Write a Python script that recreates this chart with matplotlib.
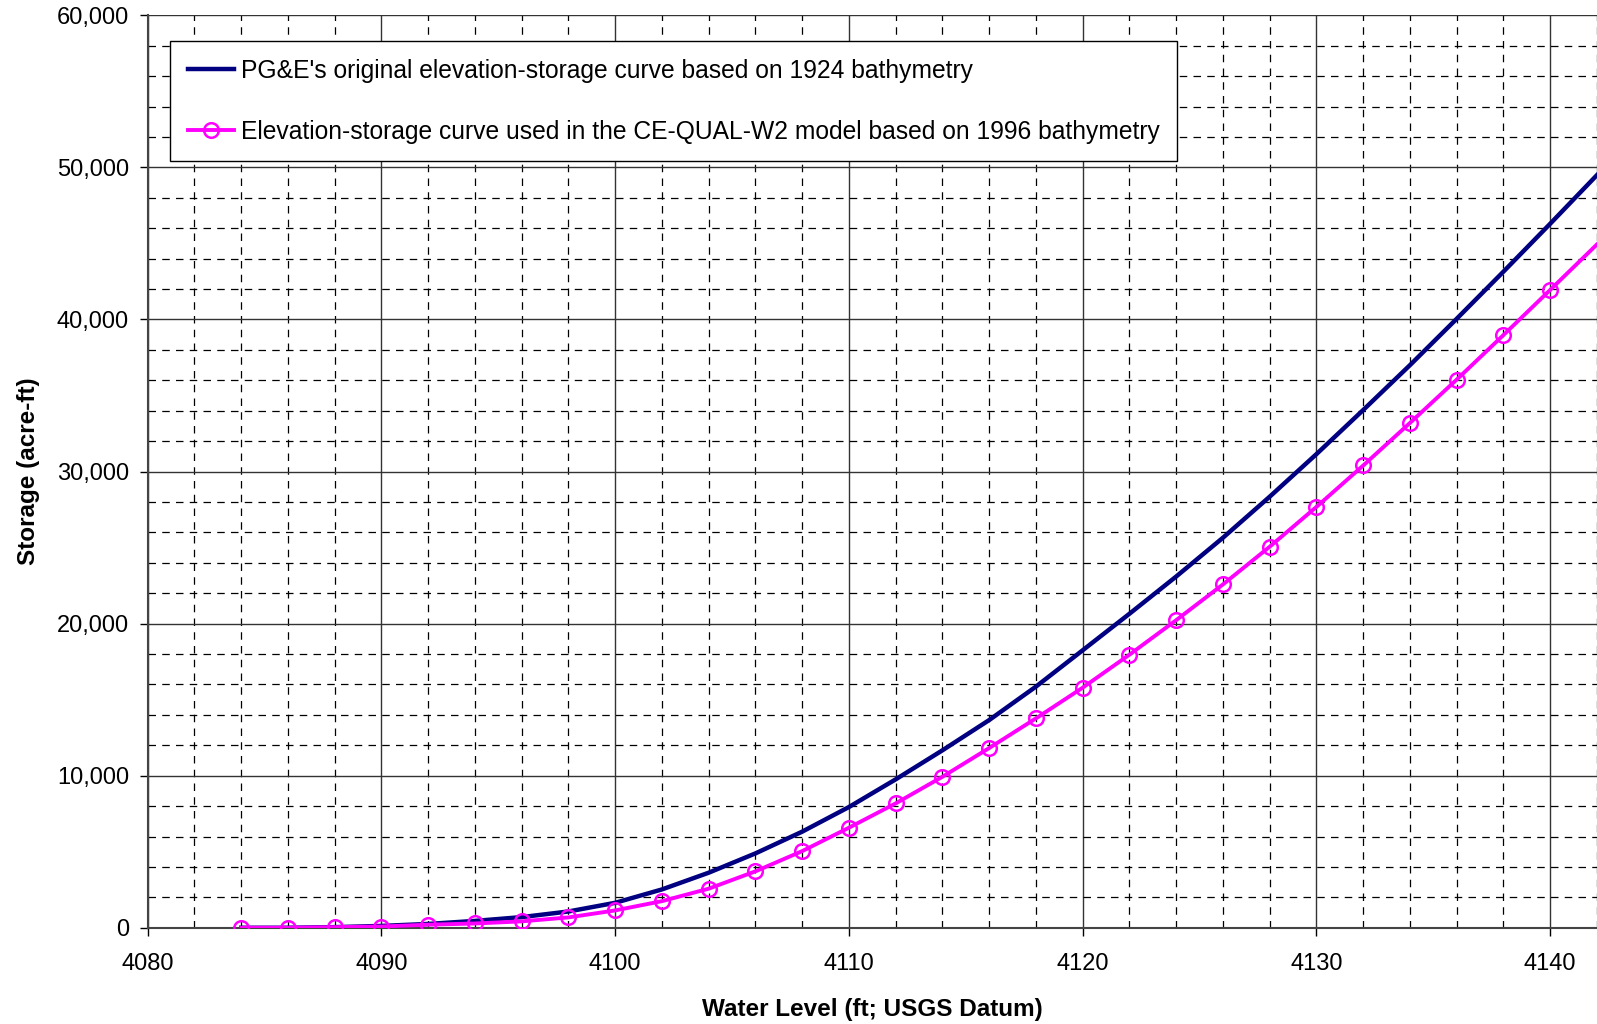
import numpy as np
import matplotlib
matplotlib.use("Agg")
import matplotlib.pyplot as plt
from matplotlib.ticker import MultipleLocator, FuncFormatter

# elevacion (ft) cada 2 ft
nivel = [4084, 4086, 4088, 4090, 4092, 4094, 4096, 4098, 4100, 4102, 4104,
         4106, 4108, 4110, 4112, 4114, 4116, 4118, 4120, 4122, 4124, 4126,
         4128, 4130, 4132, 4134, 4136, 4138, 4140, 4142]

# curva original PG&E (1924)
vol_1924 = [0, 0, 40, 120, 250, 450, 700, 1070, 1640, 2520, 3620,
            4890, 6320, 7940, 9760, 11670, 13660, 15860, 18250, 20650, 23100, 25650,
            28350, 31150, 34050, 37000, 40050, 43150, 46300, 49500]

# curva CE-QUAL-W2 (1996)
vol_1996 = [0, 0, 40, 80, 200, 280, 420, 680, 1140, 1750, 2570,
            3710, 5040, 6580, 8180, 9930, 11820, 13770, 15790, 17960, 20230, 22580,
            25060, 27680, 30400, 33200, 36050, 38980, 41950, 44940]

etiqueta_1924 = "PG&E's original elevation-storage curve based on 1924 bathymetry"
etiqueta_1996 = "Elevation-storage curve used in the CE-QUAL-W2 model based on 1996 bathymetry"

plt.rcParams['font.family'] = ['Liberation Sans', 'DejaVu Sans']

fig = plt.figure(figsize=(15.97, 10.24), dpi=100)
ax = fig.add_axes([0.0925, 0.094, 0.9075, 0.891])

ax.plot(nivel, vol_1924, color='#000080', lw=3.2, label=etiqueta_1924, zorder=3)
ax.plot(nivel, vol_1996, color='#FF00FF', lw=2.8, marker='o', ms=10.5,
        mfc='none', mec='#FF00FF', mew=1.8, markevery=slice(0, -1),
        label=etiqueta_1996, zorder=4)

ax.set_xlim(4080, 4142)
ax.set_ylim(0, 60000)
ax.xaxis.set_major_locator(MultipleLocator(10))
ax.xaxis.set_minor_locator(MultipleLocator(2))
ax.yaxis.set_major_locator(MultipleLocator(10000))
ax.yaxis.set_minor_locator(MultipleLocator(2000))
ax.yaxis.set_major_formatter(FuncFormatter(lambda v, p: f"{int(v):,}"))

ax.grid(which='major', color='#333333', lw=1.0, ls='-')
ax.grid(which='minor', color='black', lw=0.9, ls=(0, (6, 5)))
ax.set_axisbelow(True)

ax.tick_params(which='major', direction='out', length=5.5, width=1, labelsize=17)
ax.tick_params(axis='x', pad=13)
ax.tick_params(axis='y', pad=8)
ax.tick_params(which='minor', length=0)
for lado in ['top', 'right']:
    ax.spines[lado].set_visible(False)
ax.spines['left'].set_color('#444444')
ax.spines['left'].set_linewidth(1.5)
ax.spines['bottom'].set_color('#444444')
ax.spines['bottom'].set_linewidth(1.5)

ax.set_xlabel('Water Level (ft; USGS Datum)', fontsize=17.5, fontweight='bold', labelpad=16)
ax.set_ylabel('Storage (acre-ft)', fontsize=17.5, fontweight='bold', labelpad=12)

leg = ax.legend(loc='upper left', bbox_to_anchor=(170 / 1597, 1 - 41 / 1024),
                bbox_transform=fig.transFigure, fontsize=17.7, frameon=True,
                fancybox=False, edgecolor='black', framealpha=1,
                handlelength=1.9, handletextpad=0.25, labelspacing=1.5,
                borderpad=0.72, borderaxespad=0)
leg.get_frame().set_linewidth(1.0)

fig.savefig('out.png', dpi=100)
